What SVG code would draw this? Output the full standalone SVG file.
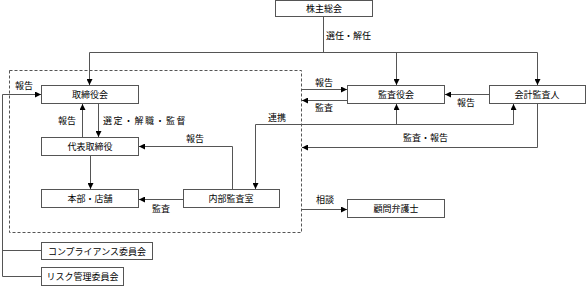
<svg xmlns="http://www.w3.org/2000/svg" width="587" height="286" viewBox="0 0 587 286">
<defs>
<marker id="ah" markerUnits="userSpaceOnUse" markerWidth="6" markerHeight="6" refX="6" refY="3" orient="auto">
<path d="M0,0 L6,3 L0,6 Z" fill="#000"/>
</marker>
<style>
.box rect{fill:#fff;stroke:#555;stroke-width:1}
text{font-family:"Noto Sans CJK JP","Noto Sans CJK SC",sans-serif;font-size:9px;fill:#000}
.box text{text-anchor:middle}
.c path{fill:none;stroke:#555;stroke-width:1}
.c .a{marker-end:url(#ah)}
.frame{fill:none;stroke:#555;stroke-width:1;stroke-dasharray:3,2}
</style>
</defs>
<rect class="frame" x="9.5" y="70.5" width="292" height="162"/>
<g id="kabunushi" class="box"><rect x="275.5" y="0.5" width="97" height="16"/><text x="324" y="12">株主総会</text></g>
<g id="torishimariyakukai" class="box"><rect x="41.5" y="85.5" width="97" height="18"/><text x="90" y="98">取締役会</text></g>
<g id="kansayakukai" class="box"><rect x="347.5" y="85.5" width="97" height="18"/><text x="396" y="98">監査役会</text></g>
<g id="kaikei" class="box"><rect x="489.5" y="85.5" width="96" height="18"/><text x="537" y="98">会計監査人</text></g>
<g id="daihyo" class="box"><rect x="41.5" y="137.5" width="97" height="18"/><text x="90" y="150">代表取締役</text></g>
<g id="honbu" class="box"><rect x="41.5" y="189.5" width="97" height="18"/><text x="90" y="202">本部・店舗</text></g>
<g id="naibu" class="box"><rect x="183.5" y="189.5" width="96" height="18"/><text x="231" y="202">内部監査室</text></g>
<g id="komon" class="box"><rect x="347.5" y="199.5" width="97" height="18"/><text x="396" y="212">顧問弁護士</text></g>
<g id="compliance" class="box"><rect x="41.5" y="242.5" width="111" height="17"/><text x="97" y="255">コンプライアンス委員会</text></g>
<g id="risk" class="box"><rect x="41.5" y="267.5" width="82" height="18"/><text x="82.5" y="280">リスク管理委員会</text></g>
<g id="connectors" class="c">
<path d="M323.5,17 V52.5 M89.5,52.5 H537.5"/>
<path class="a" d="M89.5,52.5 V85"/>
<path class="a" d="M396.5,52.5 V85"/>
<path class="a" d="M537.5,52.5 V85"/>
<path class="a" d="M2.5,276.5 V94.5 H41"/>
<path d="M2.5,250.5 H41"/>
<path d="M2.5,276.5 H41"/>
<path class="a" d="M82.5,137 V104"/>
<path class="a" d="M98.5,104 V137"/>
<path class="a" d="M90.5,156 V189"/>
<path class="a" d="M232.5,189 V146.5 H139"/>
<path class="a" d="M183,199.5 H139"/>
<path class="a" d="M513.5,124.5 H255.5 V189"/>
<path class="a" d="M513.5,124.5 V104"/>
<path class="a" d="M396.5,124.5 V104"/>
<path class="a" d="M301.5,89.5 H347"/>
<path class="a" d="M347,100.5 H302"/>
<path class="a" d="M489,94.5 H445"/>
<path class="a" d="M537.5,104 V147.5 H302"/>
<path class="a" d="M301.5,209.5 H347"/>
</g>
<g id="labels">
<text x="326" y="39">選任・解任</text>
<text x="15" y="89">報告</text>
<text x="58" y="124">報告</text>
<text x="103" y="124" letter-spacing="1.5">選定・解職・監督</text>
<text x="186" y="142">報告</text>
<text x="268" y="121">連携</text>
<text x="152" y="212">監査</text>
<text x="315" y="86">報告</text>
<text x="315" y="111">監査</text>
<text x="457" y="106">報告</text>
<text x="403" y="141">監査・報告</text>
<text x="316" y="203">相談</text>
</g>
</svg>
